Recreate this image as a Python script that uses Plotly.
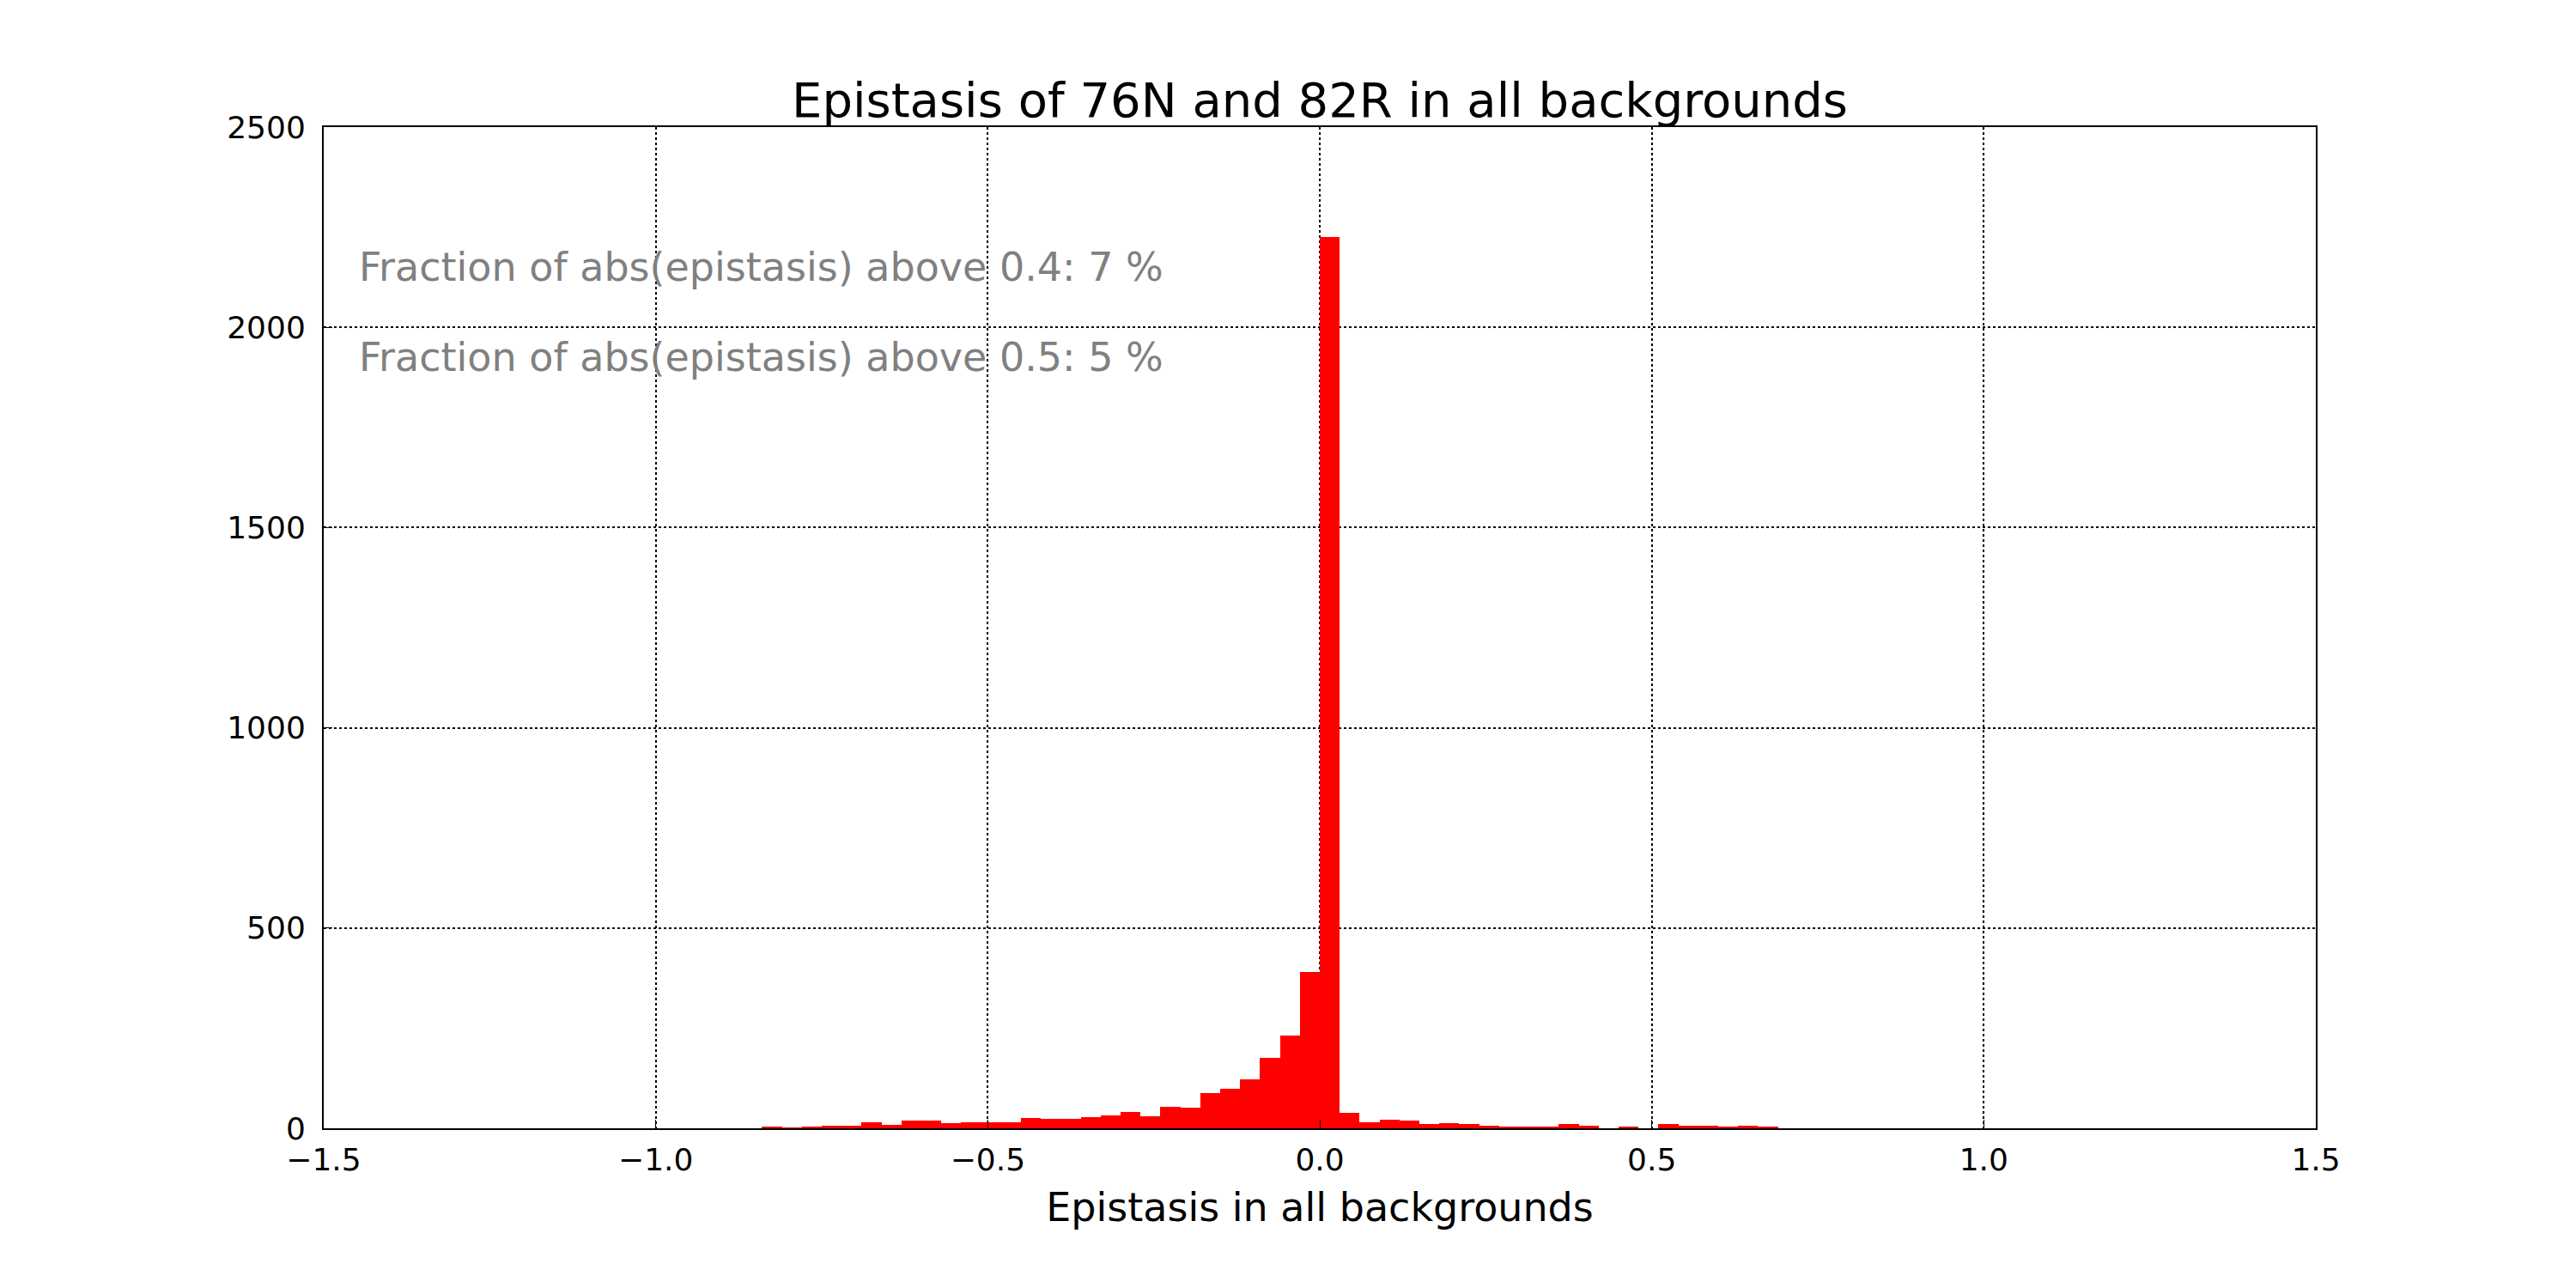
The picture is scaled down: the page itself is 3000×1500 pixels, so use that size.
import plotly.graph_objects as go

bin_width = 0.03
first_bin_left = -0.84
counts = [4, 1, 4, 6, 6, 14, 8, 19, 19, 12, 14, 14, 16, 25, 23, 23, 27, 32, 40, 29,
          53, 51, 87, 98, 122, 176, 232, 391, 2225, 38, 16, 21, 19, 10, 12, 10, 6, 4,
          4, 4, 10, 6, 0, 4, 0, 10, 6, 6, 4, 6, 4]
x_ticks = [-1.5, -1.0, -0.5, 0.0, 0.5, 1.0, 1.5]
x_tick_labels = ["\u22121.5", "\u22121.0", "\u22120.5", "0.0", "0.5", "1.0", "1.5"]
y_ticks = [0, 500, 1000, 1500, 2000, 2500]
notes = ["Fraction of abs(epistasis) above 0.4: 7 %", "Fraction of abs(epistasis) above 0.5: 5 %"]
note_y = [2150, 1925]

fig = go.Figure(go.Bar(x0=first_bin_left + bin_width / 2, dx=bin_width, y=counts,
                       width=bin_width, marker=dict(color="red", line=dict(width=0))))

for t, yy in zip(notes, note_y):
    fig.add_annotation(x=-1.45, y=yy, text=t, showarrow=False, xanchor="left",
                       yanchor="middle", font=dict(size=46, color="gray"))

axis_common = dict(showgrid=True, gridcolor="black", griddash="dot", gridwidth=2,
                   showline=True, linecolor="black", linewidth=2, mirror=True,
                   ticks="inside", ticklen=10, tickcolor="black", zeroline=False,
                   tickfont=dict(size=36, color="black"))
fig.update_xaxes(range=[-1.5, 1.5], tickvals=x_ticks, ticktext=x_tick_labels,
                 title=dict(text="Epistasis in all backgrounds", font=dict(size=46, color="black"),
                            standoff=20),
                 ticklabelstandoff=4, **axis_common)
fig.update_yaxes(range=[0, 2500], tickvals=y_ticks, ticklabelstandoff=12, **axis_common)

fig.update_layout(
    width=3000, height=1500, plot_bgcolor="white", paper_bgcolor="white",
    font=dict(family="DejaVu Sans"),
    margin=dict(l=369, r=311, t=140, b=194),
    title=dict(text="Epistasis of 76N and 82R in all backgrounds", x=0.5, xref="paper",
               y=1 - 108 / 1500, yanchor="middle", font=dict(size=56, color="black")),
    bargap=0, showlegend=False,
)
fig.write_html("out.html")
